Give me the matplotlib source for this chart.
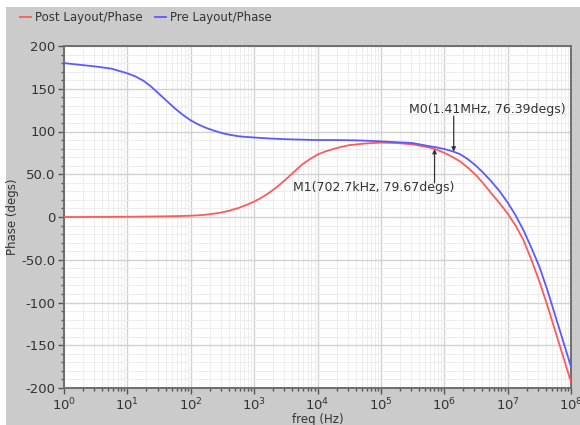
import numpy as np
import matplotlib
matplotlib.use("Agg")
import matplotlib.pyplot as plt
from matplotlib.patches import Rectangle
from matplotlib.ticker import FixedLocator, NullFormatter, LogLocator

# log10 of frequency (Hz) sample points
log_freq = [0, 0.25, 0.5, 0.75, 1.0, 1.125, 1.25, 1.375, 1.5, 1.625, 1.75, 1.875,
            2.0, 2.125, 2.25, 2.375, 2.5, 2.625, 2.75, 2.875, 3.0, 3.125, 3.25,
            3.375, 3.5, 3.625, 3.75, 3.875, 4.0, 4.125, 4.25, 4.375, 4.5, 4.75,
            5.0, 5.25, 5.5, 5.75, 5.875, 6.0, 6.125, 6.25, 6.375, 6.5, 6.625,
            6.75, 6.875, 7.0, 7.125, 7.25, 7.375, 7.5, 7.625, 7.75, 7.875, 8.0]
post_phase = [0, 0, 0.1, 0.2, 0.3, 0.4, 0.5, 0.6, 0.7, 0.85, 1.0, 1.2,
              1.5, 2.0, 2.8, 4.0, 5.5, 7.7, 10.5, 14, 18, 23, 29,
              36, 44, 52.5, 61, 67.5, 73, 76.7, 79.5, 82, 84, 86,
              87, 86.5, 85, 81.5, 79, 75, 70.5, 65, 57.5, 49, 38.5,
              27, 16, 4, -10, -27, -50, -75, -103, -133, -163, -193]
pre_phase = [180, 178, 176, 173.5, 168, 164.5, 159.5, 152.5, 144, 135.5, 127, 119.5,
             113, 108, 104, 100.8, 98, 96, 94.5, 93.6, 93, 92.4, 91.8,
             91.4, 91, 90.7, 90.5, 90.2, 90, 90, 90, 89.9, 89.8, 89.3,
             88.5, 87.5, 86.5, 83, 81.5, 79.5, 77, 73.5, 67.5, 60, 51,
             41, 30, 17, 2, -15.5, -36, -58, -85, -115, -145, -175]

series_names = ["Post Layout/Phase", "Pre Layout/Phase"]
y_ticks = [-200, -150, -100, -50, 0, 50, 100, 150, 200]
y_tick_labels = ["-200", "-150", "-100", "-50.0", "0", "50.0", "100", "150", "200"]

m1_freq, m1_phase, m1_label = 702.7e3, 79.67, "M1(702.7kHz, 79.67degs)"
m0_freq, m0_phase, m0_label = 1.41e6, 76.39, "M0(1.41MHz, 76.39degs)"

freq = [10 ** v for v in log_freq]

fig = plt.figure(figsize=(5.8, 4.25), dpi=100)
fig.patch.set_facecolor("white")
fig.add_artist(Rectangle((6 / 580, 0), 1 - 6 / 580, 1 - 7 / 425,
                         transform=fig.transFigure, facecolor="#cbcbcb",
                         edgecolor="none", zorder=-10))

ax = fig.add_axes([64 / 580, 1 - 388 / 425, 507 / 580, 342 / 425])
ax.set_facecolor("white")

l1, = ax.plot(freq, post_phase, color="#ff5a5a", lw=1.3, zorder=3)
l2, = ax.plot(freq, pre_phase, color="#5a5aff", lw=1.3, zorder=3)

ax.set_xscale("log")
ax.set_xlim(1, 1e8)
ax.set_ylim(-200, 200)
ax.set_yticks(y_ticks)
ax.set_yticklabels(y_tick_labels)
ax.yaxis.set_minor_locator(FixedLocator(np.arange(-200, 201, 10)))
ax.xaxis.set_major_locator(LogLocator(base=10, numticks=20))
ax.xaxis.set_minor_locator(LogLocator(base=10, subs=np.arange(2, 10), numticks=100))
ax.xaxis.set_minor_formatter(NullFormatter())

ax.grid(which="major", color="#d2d2d2", lw=1.0, zorder=0)
ax.grid(which="minor", color="#ededed", lw=0.8, zorder=0)
ax.set_axisbelow(True)

for s in ax.spines.values():
    s.set_color("#6e6e6e")
    s.set_linewidth(1.4)

ax.tick_params(which="major", direction="out", length=4, width=1, color="#555555",
               labelsize=9.5, labelcolor="#333333", pad=2)
ax.tick_params(which="minor", direction="out", length=2.5, width=1, color="#555555")
ax.tick_params(top=False, right=False, which="both")

ax.set_xlabel("freq (Hz)", fontsize=8.5, color="#333333", labelpad=0)
ax.set_ylabel("Phase (degs)", fontsize=8.5, color="#333333", labelpad=2)

# markers
ax.annotate("", xy=(m1_freq, m1_phase), xytext=(m1_freq, 40),
            arrowprops=dict(arrowstyle="-|>,head_length=0.25,head_width=0.12",
                            color="#333333", lw=0.9, shrinkA=0, shrinkB=0), zorder=4)
ax.text(10 ** 3.62, 34, m1_label, fontsize=9, color="#333333",
        ha="left", va="center", zorder=5)
ax.annotate("", xy=(m0_freq, m0_phase), xytext=(m0_freq, 118),
            arrowprops=dict(arrowstyle="-|>,head_length=0.25,head_width=0.12",
                            color="#333333", lw=0.9, shrinkA=0, shrinkB=0), zorder=4)
ax.text(10 ** 5.45, 126, m0_label, fontsize=9, color="#333333",
        ha="left", va="center", zorder=5)

fig.legend([l1, l2], series_names, loc="center left",
           bbox_to_anchor=(20 / 580, 1 - 18 / 425), ncol=2, frameon=False,
           fontsize=8.5, handlelength=0.9, handletextpad=0.35, columnspacing=1.1,
           labelcolor="#333333", borderaxespad=0, borderpad=0)

fig.savefig("out.png", dpi=100, facecolor=fig.get_facecolor())
